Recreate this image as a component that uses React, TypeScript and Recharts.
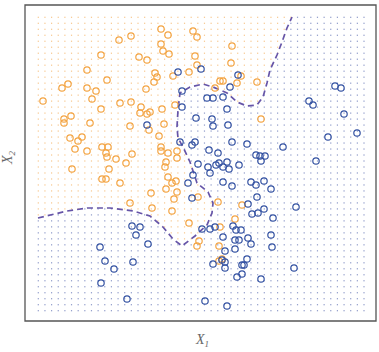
import React from 'react';
import { ScatterChart, Scatter, XAxis, YAxis, ReferenceArea } from 'recharts';

// Orange class observations (X1, X2)
const orangeX1 = [136,143,106,94,136,138,144,76,114,122,62,130,132,148,164,82,129,43,37,62,71,121,67,18,95,106,76,116,137,150,115,122,125,46,39,39,65,105,139,124,45,53,57,134,50,62,77,83,81,82,107,136,136,143,152,91,101,141,140,47,84,152,168,172,207,170,172,206,216,212,195,198,232,190,236,77,81,95,143,147,151,141,152,126,149,105,127,147,164,173,193,217,210,195,172,174,194,197,194];
const orangeX2 = [292,286,285,281,277,270,267,266,264,261,251,248,244,245,249,241,239,237,233,233,230,232,222,220,218,219,212,214,212,216,208,207,209,205,202,198,198,195,197,191,183,180,184,185,172,170,174,174,168,164,167,174,170,168,170,162,158,159,154,152,152,163,290,284,275,265,256,258,245,238,240,240,239,233,202,142,142,138,144,138,140,132,129,128,122,118,113,110,98,124,119,116,102,94,75,80,75,62,60];

// Blue class observations (X1, X2)
const blueX1 = [153,157,157,122,155,176,213,205,182,188,198,202,171,187,188,203,310,316,284,288,319,303,332,258,207,222,170,167,184,193,231,235,240,236,291,173,183,191,194,202,198,204,214,185,168,163,198,207,226,231,239,246,167,232,223,227,233,239,248,271,177,185,190,208,211,216,198,210,214,223,226,246,247,200,210,222,197,200,217,219,200,188,212,217,236,269,180,202,107,115,111,123,75,80,108,89,76,102];
const blueX2 = [249,230,214,196,179,252,246,234,223,223,224,212,203,202,195,196,235,233,220,216,207,184,188,174,179,177,179,176,171,168,166,165,165,160,160,157,154,156,158,159,154,152,156,148,146,138,139,135,139,136,140,132,123,124,117,107,108,112,103,114,92,92,94,95,91,91,84,81,81,83,77,86,74,70,72,62,61,59,56,56,53,57,44,47,42,53,20,15,95,94,86,77,74,60,59,52,38,22];

// Bayes decision boundary (dashed curve)
const boundaryX1 = [13,42,62,85,108,125,138,148,157,170,182,187,188,183,172,165,158,153,152,153,155,165,178,188,202,212,222,232,238,242,245,252,257,262,267];
const boundaryX2 = [103,110,113,113,110,105,94,82,75,85,96,108,118,129,138,159,174,183,194,211,228,234,237,234,228,219,215,216,224,238,251,266,279,293,304];

// Evaluation lattice
const GRID_N = 50;
const GRID_X_RANGE = [13.3, 339];
const GRID_Y_RANGE = [10.3, 303.7];

const X_DOMAIN = [0, 351];
const Y_DOMAIN = [0, 316];

const ORANGE = '#F3A443';
const BLUE = '#3452A2';
const ORANGE_DOT = '#F7C68C';
const BLUE_DOT = '#8C98C8';
const BOUNDARY = '#6655A8';

const orangeData = orangeX1.map((x, i) => ({ x, y: orangeX2[i] }));
const blueData = blueX1.map((x, i) => ({ x, y: blueX2[i] }));
const boundaryData = boundaryX1.map((x, i) => ({ x, y: boundaryX2[i] }));

// Orange region polygon: boundary closed through the top-left corner
const poly: [number, number][] = [
  [X_DOMAIN[0], boundaryX2[0]],
  ...boundaryData.map((p) => [p.x, p.y] as [number, number]),
  [boundaryX1[boundaryX1.length - 1] + 1, Y_DOMAIN[1]],
  [X_DOMAIN[0], Y_DOMAIN[1]],
];

function inside(px: number, py: number): boolean {
  let c = false;
  for (let i = 0, j = poly.length - 1; i < poly.length; j = i++) {
    const [xi, yi] = poly[i];
    const [xj, yj] = poly[j];
    if ((yi > py) !== (yj > py) && px < ((xj - xi) * (py - yi)) / (yj - yi) + xi) c = !c;
  }
  return c;
}

const gridOrange: { x: number; y: number }[] = [];
const gridBlue: { x: number; y: number }[] = [];
for (let i = 0; i < GRID_N; i++) {
  for (let j = 0; j < GRID_N; j++) {
    const x = GRID_X_RANGE[0] + ((GRID_X_RANGE[1] - GRID_X_RANGE[0]) * i) / (GRID_N - 1);
    const y = GRID_Y_RANGE[0] + ((GRID_Y_RANGE[1] - GRID_Y_RANGE[0]) * j) / (GRID_N - 1);
    (inside(x, y) ? gridOrange : gridBlue).push({ x, y });
  }
}

const dotShape = (color: string) => (props: any) => (
  <rect x={props.cx - 0.6} y={props.cy - 0.6} width={1.2} height={1.2} fill={color} />
);

const ringShape = (color: string) => (props: any) => (
  <circle cx={props.cx} cy={props.cy} r={3.2} fill="none" stroke={color} strokeWidth={1.2} />
);

export default function App() {
  return (
    <div style={{ position: 'absolute', left: 0, top: 0, width: 379, height: 352, background: '#fff' }}>
      <ScatterChart width={379} height={352} margin={{ top: 5, right: 3, bottom: 31, left: 25 }}>
        <XAxis type="number" dataKey="x" domain={X_DOMAIN} hide allowDataOverflow />
        <YAxis type="number" dataKey="y" domain={Y_DOMAIN} hide allowDataOverflow />
        <Scatter data={gridOrange} shape={dotShape(ORANGE_DOT)} isAnimationActive={false} />
        <Scatter data={gridBlue} shape={dotShape(BLUE_DOT)} isAnimationActive={false} />
        <Scatter
          data={boundaryData}
          line={{ stroke: BOUNDARY, strokeWidth: 1.7, strokeDasharray: '6 4' }}
          lineType="joint"
          shape={() => <g />}
          isAnimationActive={false}
        />
        <Scatter data={orangeData} shape={ringShape(ORANGE)} isAnimationActive={false} />
        <Scatter data={blueData} shape={ringShape(BLUE)} isAnimationActive={false} />
        <ReferenceArea x1={X_DOMAIN[0]} x2={X_DOMAIN[1]} y1={Y_DOMAIN[0]} y2={Y_DOMAIN[1]} fill="none" fillOpacity={0} stroke="#555" strokeWidth={1.3} />
      </ScatterChart>
      <svg width={379} height={352} style={{ position: 'absolute', left: 0, top: 0, pointerEvents: 'none' }}>
        <text x={196} y={344} fontFamily="Liberation Serif" fontStyle="italic" fontSize={14} fill="#666">
          X<tspan dy={3} fontSize={9}>1</tspan>
        </text>
        <text transform="translate(12,164) rotate(-90)" fontFamily="Liberation Serif" fontStyle="italic" fontSize={14} fill="#666">
          X<tspan dy={3} fontSize={9}>2</tspan>
        </text>
      </svg>
    </div>
  );
}
